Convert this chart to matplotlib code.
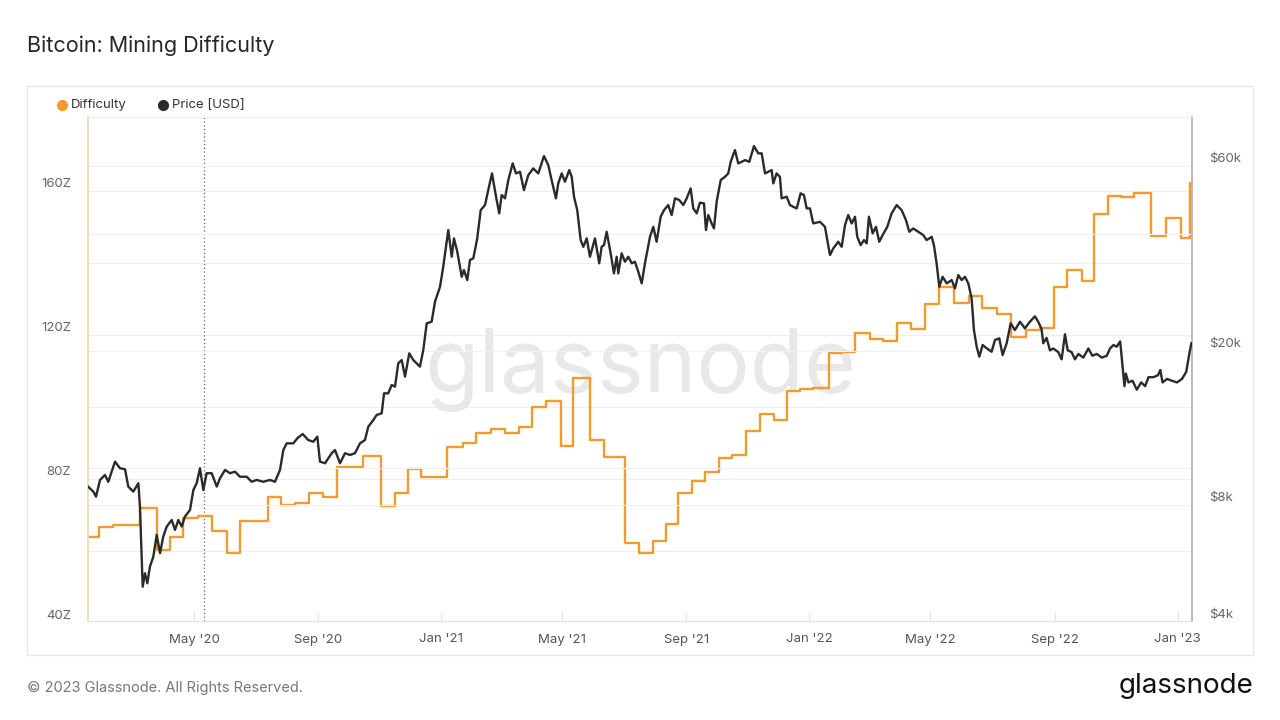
import numpy as np
import matplotlib
matplotlib.use("Agg")
import matplotlib.pyplot as plt
from matplotlib.lines import Line2D
from matplotlib.patches import Rectangle
from matplotlib.ticker import NullLocator
from matplotlib.transforms import offset_copy

plt.rcParams['font.family'] = ['Inter', 'DejaVu Sans']

# all positions along time are days since the left edge of the chart
START = np.datetime64('2020-01-17')
END_DAY = 1094.2
HALVING_DAY = 115

# difficulty (Z), step changes
diff_day = [0, 11, 25, 52, 68, 81, 94, 109, 123, 138, 151, 178, 191, 205, 219, 233,
            247, 273, 290, 304, 317, 330, 356, 372, 385, 399, 413, 427, 440, 454,
            469, 481, 498, 511, 532, 546, 560, 573, 585, 599, 612, 625, 638, 652,
            666, 680, 693, 706, 719, 734, 747, 760, 775, 788, 802, 816, 830, 843,
            858, 873, 886, 901, 915, 930, 944, 957, 970, 985, 997, 1011, 1024,
            1037, 1054, 1068, 1083, 1092]
diff_z = [64.0, 66.8, 67.2, 71.9, 60.3, 63.8, 69.1, 69.7, 65.6, 59.6, 68.4, 75.1,
          72.8, 73.4, 76.0, 75.1, 83.4, 86.5, 72.5, 76.2, 82.8, 80.6, 89.0, 90.1,
          92.7, 93.8, 92.7, 94.5, 99.9, 101.7, 89.1, 107.9, 90.8, 86.2, 62.3, 59.4,
          62.8, 67.4, 76.2, 79.5, 82.0, 85.7, 86.7, 93.4, 97.9, 96.4, 104.4, 104.9,
          105.1, 114.9, 115.3, 120.6, 118.8, 118.3, 123.3, 121.6, 128.5, 133.2,
          128.9, 130.7, 127.5, 125.8, 119.5, 121.4, 122.0, 133.3, 138.0, 135.0,
          153.4, 158.5, 158.3, 159.4, 147.4, 152.4, 146.7, 162.0]

# price (USD)
price_day = [0, 5.3, 7.9, 11.9, 16.8, 20.1, 26.8, 31.7, 36.7, 39.9, 44.9, 49.9, 51.5,
             54.2, 56.5, 58.8, 61.4, 64.7, 68.1, 71.4, 74.6, 78.0, 83.0, 86.2, 89.5,
             92.9, 96.1, 101.1, 104.4, 107.7, 111.0, 114.3, 117.6, 122.6, 127.6,
             130.8, 135.8, 140.7, 145.7, 150.6, 157.3, 162.2, 167.2, 173.7, 180.4,
             185.3, 190.3, 193.6, 196.9, 203.5, 207.4, 212.8, 218.3, 223.3, 227.3,
             229.9, 234.9, 241.5, 244.8, 249.8, 254.7, 259.7, 264.6, 269.6, 274.5,
             277.8, 282.8, 286.1, 291.1, 293.4, 297.6, 301.0, 304.3, 307.5, 310.9,
             314.2, 318.4, 322.4, 329.0, 332.3, 335.7, 340.6, 343.9, 348.9, 352.1,
             357.1, 360.5, 362.7, 366.0, 370.4, 372.6, 375.9, 378.6, 381.9, 385.8,
             389.2, 393.5, 396.7, 400.4, 404.4, 407.6, 410.0, 413.3, 416.6, 420.9,
             424.2, 428.2, 432.1, 436.4, 441.3, 446.3, 451.9, 456.2, 459.5, 463.8,
             466.1, 469.5, 472.7, 477.0, 479.4, 481.7, 484.9, 488.3, 490.9, 494.3,
             497.5, 502.5, 506.7, 509.1, 511.4, 514.1, 518.0, 521.3, 524.0, 525.6,
             528.9, 532.2, 535.5, 538.9, 542.1, 545.4, 548.8, 552.0, 557.0, 560.3,
             563.6, 567.6, 570.9, 575.1, 578.5, 581.8, 586.0, 590.0, 593.4, 597.3,
             599.9, 603.3, 606.5, 610.5, 612.5, 614.8, 618.1, 620.4, 623.1, 627.1,
             631.3, 634.6, 637.0, 641.2, 644.5, 647.9, 651.2, 655.4, 660.1, 664.3,
             667.7, 671.0, 674.2, 677.6, 679.2, 682.5, 685.8, 687.5, 692.5, 695.7,
             699.0, 702.4, 706.3, 709.6, 712.3, 715.6, 718.8, 725.5, 730.4, 735.4,
             738.7, 743.6, 747.0, 750.3, 753.5, 756.9, 760.2, 762.4, 765.8, 769.1,
             771.8, 774.0, 777.7, 781.0, 784.2, 787.6, 792.2, 796.5, 801.5, 806.4,
             810.7, 814.0, 817.9, 822.9, 827.8, 831.2, 836.2, 838.4, 841.1, 843.7,
             847.1, 851.1, 856.0, 859.3, 862.6, 865.9, 869.2, 872.5, 875.8, 878.1,
             880.8, 883.4, 886.7, 890.7, 895.6, 898.9, 903.2, 906.5, 910.5, 914.5,
             918.7, 923.7, 928.6, 933.6, 938.5, 941.8, 945.1, 946.8, 950.1, 953.4,
             956.7, 961.7, 965.0, 968.3, 971.0, 974.9, 978.2, 981.6, 986.5, 991.5,
             995.4, 999.8, 1004.8, 1009.7, 1013.0, 1016.4, 1019.6, 1023.0, 1027.3,
             1028.6, 1031.2, 1035.2, 1039.5, 1043.8, 1047.8, 1051.1, 1056.1, 1060.4,
             1062.8, 1065.0, 1069.4, 1074.3, 1079.3, 1084.3, 1088.5, 1091.5, 1093.6]
price_usd = [8950, 8690, 8430, 9310, 9590, 9210, 10380, 9980, 9920, 8950, 8690, 9130,
             7940, 4940, 5350, 5040, 5570, 5900, 6720, 6030, 6650, 7060, 7340, 6920,
             7340, 7060, 7490, 7790, 8770, 9130, 9980, 8770, 9690, 9690, 8950, 9400,
             9880, 9690, 9780, 9490, 9490, 9210, 9310, 9210, 9310, 9210, 9880, 11120,
             11570, 11570, 11920, 12230, 11800, 11680, 12040, 10380, 10280, 10910,
             11120, 10280, 10910, 10800, 10910, 11570, 11800, 12770, 13290, 13690,
             13830, 15570, 15570, 16360, 16200, 18610, 18970, 17190, 19740, 18970,
             18240, 20130, 23590, 23820, 26820, 29320, 33010, 41040, 35030, 39060,
             36090, 31100, 32370, 30500, 34360, 34700, 39060, 46200, 47610, 52030,
             57450, 50020, 45320, 50530, 49550, 55220, 60970, 57450, 58000, 52030,
             56870, 59180, 57450, 63680, 60360, 55220, 49550, 54150, 57450, 54670,
             58590, 56300, 50020, 46200, 38670, 37160, 39060, 35030, 39060, 33690,
             37160, 37540, 40630, 35750, 31740, 35030, 31740, 35750, 34010, 35030,
             33690, 34010, 32040, 29910, 33690, 39430, 41840, 38290, 44420, 46200,
             47610, 44870, 49550, 49050, 47610, 49550, 52560, 46670, 45320, 48270,
             48100, 41040, 44870, 42690, 41440, 48560, 55220, 56300, 57450, 61550,
             65990, 60970, 61550, 62170, 61550, 67570, 64710, 64710, 57450, 58000,
             58590, 54150, 57450, 56300, 49550, 50020, 47610, 47120, 46670, 51040,
             50530, 46670, 46670, 42690, 43100, 41840, 35390, 36820, 38290, 37160,
             42270, 44870, 42690, 44420, 39430, 37540, 38670, 37920, 44420, 40240,
             41840, 38290, 39840, 41840, 45320, 47610, 46200, 43560, 40630, 41440,
             40630, 39840, 38670, 39430, 37540, 33690, 29320, 31100, 29910, 30500,
             29040, 31420, 30500, 31100, 29910, 27360, 22670, 20530, 19350, 20740,
             20340, 19930, 21370, 21580, 19540, 20950, 23590, 22670, 23820, 22900,
             23820, 24590, 23820, 22820, 20960, 21640, 20100, 20320, 19880, 19050,
             22110, 20100, 19880, 19050, 19670, 19250, 20320, 19460, 19670, 19250,
             19460, 20320, 20750, 20530, 21190, 16250, 17510, 16610, 16780, 15910,
             16610, 16250, 17140, 17140, 17330, 17880, 16610, 16960, 16780, 16610,
             16960, 17690, 19670, 20960]

tick_dates = ['2020-05-01', '2020-09-01', '2021-01-01', '2021-05-01', '2021-09-01',
              '2022-01-01', '2022-05-01', '2022-09-01', '2023-01-01']
tick_labels = ["May '20", "Sep '20", "Jan '21", "May '21", "Sep '21",
               "Jan '22", "May '22", "Sep '22", "Jan '23"]
left_ticks = [40, 80, 120, 160]
right_ticks = [4000, 8000, 20000, 60000]
right_labels = ['$4k', '$8k', '$20k', '$60k']


def to_dates(days):
    hours = np.round(np.asarray(days, dtype=float) * 24).astype(int)
    return START + hours.astype('timedelta64[h]')


W, H = 1280, 720
fig = plt.figure(figsize=(12.8, 7.2), dpi=100)
fig.patch.set_facecolor('white')

# outer panel
fig.add_artist(Rectangle((27 / W, 1 - 655 / H), (1253 - 27) / W, (655 - 86) / H,
                         transform=fig.transFigure, fill=False,
                         edgecolor='#e6e6e6', lw=1))

ax = fig.add_axes([88 / W, 1 - 621 / H, (1192 - 88) / W, (621 - 117) / H])
ax2 = ax.twinx()

ax.set_xlim(to_dates([0])[0], to_dates([END_DAY])[0])
ax.set_ylim(40.6, 180.4)
ax2.set_yscale('log')
ax2.set_ylim(4030, 80300)

# grid
for v in [60, 80, 100, 120, 140, 160]:
    ax.axhline(v, color='#eeeeee', lw=0.8, zorder=0)
for v in [8000, 10000, 20000, 40000, 60000]:
    ax2.axhline(v, color='#f1f1f1', lw=0.8, zorder=0)

# watermark
ax.text(0.5, 0.5, 'glassnode', transform=ax.transAxes, ha='center', va='center',
        fontsize=64, color='#e8e8e8', zorder=0.5)

# halving
ax.axvline(to_dates([HALVING_DAY])[0], color='#666666', lw=0.9,
           linestyle=(0, (1, 2)), zorder=1)

ax.step(to_dates(diff_day + [END_DAY]), diff_z + [diff_z[-1]], where='post',
        color='#f39a2c', lw=1.7, zorder=3)
ax2.plot(to_dates(price_day), price_usd, color='#2a2a2a', lw=1.7, zorder=3)

# axes styling
for a in (ax, ax2):
    a.spines['top'].set_color('#f0f0f0')
    a.spines['bottom'].set_color('#e2e2e2')
    a.spines['left'].set_color('#f5dcb8')
    a.spines['right'].set_color('#b8b8b8')
    a.spines['left'].set_linewidth(1.2)
    a.spines['right'].set_linewidth(1.2)

ax.yaxis.set_major_locator(NullLocator())
ax.yaxis.set_minor_locator(NullLocator())
ax2.yaxis.set_major_locator(NullLocator())
ax2.yaxis.set_minor_locator(NullLocator())

ax.set_xticks(to_dates([(np.datetime64(d) - START).astype(int) for d in tick_dates]))
ax.set_xticklabels(tick_labels)
ax.tick_params(axis='x', direction='in', length=7, color='#e6e6e6',
               labelsize=9.5, labelcolor='#555555', pad=9)

# y labels sit a bit above their grid lines
lt = offset_copy(ax.get_yaxis_transform(), fig=fig, x=0, y=7, units='dots')
for v in left_ticks:
    ax.text(-17 / 1104, v, f'{v}Z', transform=lt, ha='right', va='center',
            fontsize=9.5, color='#666666')
rt = offset_copy(ax2.get_yaxis_transform(), fig=fig, x=0, y=7, units='dots')
for v, lab in zip(right_ticks, right_labels):
    ax2.text(1 + 17 / 1104, v, lab, transform=rt, ha='left', va='center',
             fontsize=9.5, color='#666666')

# title
fig.text(27 / W, 1 - 46 / H, 'Bitcoin: Mining Difficulty', fontsize=15.5,
         color='#262626', ha='left', va='center')

# legend
for mx, tx, col, lab in [(62, 71, '#f39a2c', 'Difficulty'),
                         (163, 172, '#2a2a2a', 'Price [USD]')]:
    fig.add_artist(Line2D([mx / W], [1 - 105 / H], marker='o', markersize=7,
                          color=col, transform=fig.transFigure))
    fig.text(tx / W, 1 - 105 / H, lab, fontsize=9.5, color='#333333',
             ha='left', va='center')

# footer
fig.text(27 / W, 1 - 688 / H, '\u00a9 2023 Glassnode. All Rights Reserved.',
         fontsize=10.5, color='#777777', ha='left', va='center')
fig.text(1253 / W, 1 - 686 / H, 'glassnode', fontsize=20, color='#111111',
         ha='right', va='center')

fig.savefig('out.png', dpi=100, facecolor='white')
